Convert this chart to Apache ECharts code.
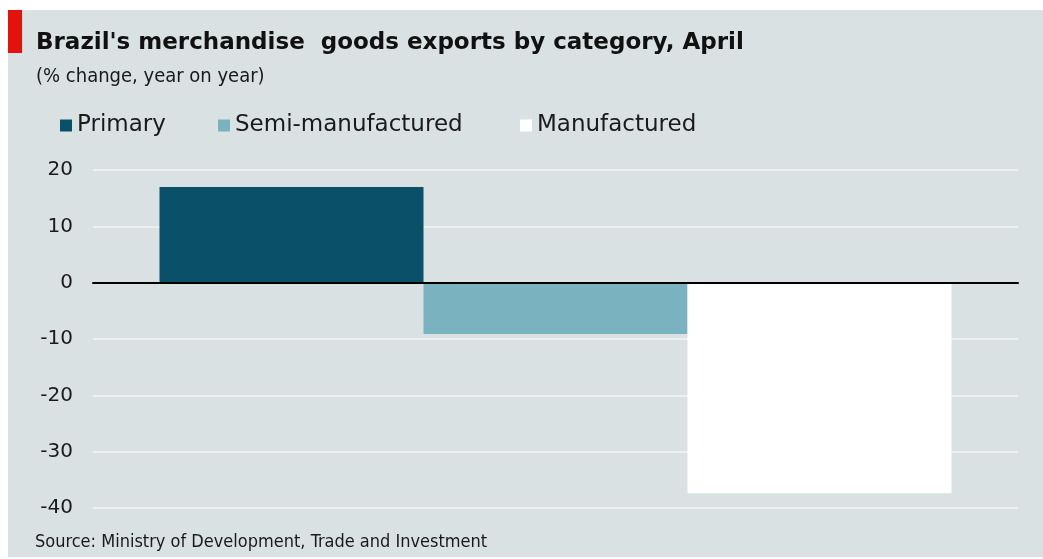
<!DOCTYPE html>
<html>
<head>
<meta charset="utf-8">
<script src="https://cdn.jsdelivr.net/npm/echarts@6/dist/echarts.min.js"></script>
<style>
  html, body { margin: 0; padding: 0; background: #ffffff; }
  #chart { width: 1043px; height: 559px; }
</style>
</head>
<body>
<div id="chart"></div>
<script>
// Brazil's merchandise goods exports by category, April (% change, y/y)
const categories = ['April'];
const seriesNames = ['Primary', 'Semi-manufactured', 'Manufactured'];
const seriesValues = [[17.0], [-9.1], [-37.4]];
const seriesColors = ['#0b5069', '#7ab3bf', '#ffffff'];
const yTicks = { min: -40, max: 20, interval: 10 };

// horizontal position of each legend entry
const legendLefts = [60, 218, 520];

const chart = echarts.init(document.getElementById('chart'), null, { renderer: 'canvas' });

const series = seriesNames.map((name, i) => ({
  name: name,
  type: 'bar',
  data: seriesValues[i],
  barWidth: 264,
  barGap: '0%',
  itemStyle: { color: seriesColors[i] },
  emphasis: { disabled: true }
}));

const legends = seriesNames.map((name, i) => ({
  left: legendLefts[i],
  top: 114,
  padding: 0,
  itemWidth: 12,
  itemHeight: 12,
  icon: 'rect',
  selectedMode: false,
  data: [name],
  textStyle: { fontFamily: 'DejaVu Sans', fontSize: 23, color: '#1a1a1a' }
}));

chart.setOption({
  animation: false,
  backgroundColor: '#ffffff',
  graphic: [
    { type: 'rect', z: -10, shape: { x: 8, y: 10, width: 1035, height: 547 }, style: { fill: '#d9e1e2' } },
    { type: 'rect', z: 10, shape: { x: 8, y: 10, width: 14, height: 43 }, style: { fill: '#e3120b' } },
    {
      type: 'text', left: 35, top: 533,
      style: { text: 'Source: Ministry of Development, Trade and Investment', font: '18px "DejaVu Sans Condensed", "DejaVu Sans"', fill: '#1a1a1a' }
    }
  ],
  title: [
    {
      text: "Brazil's merchandise  goods exports by category, April",
      left: 31,
      top: 27,
      textStyle: { fontFamily: 'DejaVu Sans', fontWeight: 'bold', fontSize: 23, color: '#111111' }
    },
    {
      text: '(% change, year on year)',
      left: 31,
      top: 62,
      textStyle: { fontFamily: '"DejaVu Sans Condensed", "DejaVu Sans"', fontWeight: 'normal', fontSize: 20, color: '#1a1a1a' }
    }
  ],
  legend: legends,
  grid: { left: 93, right: 25, top: 170, bottom: 51 },
  xAxis: {
    type: 'category',
    data: categories,
    z: 5,
    axisLine: { show: true, onZero: true, lineStyle: { color: '#000000', width: 2 } },
    axisTick: { show: false },
    axisLabel: { show: false },
    splitLine: { show: false }
  },
  yAxis: {
    type: 'value',
    min: yTicks.min,
    max: yTicks.max,
    interval: yTicks.interval,
    axisLine: { show: false },
    axisTick: { show: false },
    axisLabel: { fontFamily: 'DejaVu Sans', fontSize: 20, color: '#1a1a1a', margin: 20 },
    splitLine: { lineStyle: { color: '#f2f5f5', width: 1.5 } }
  },
  series: series
});
</script>
</body>
</html>
